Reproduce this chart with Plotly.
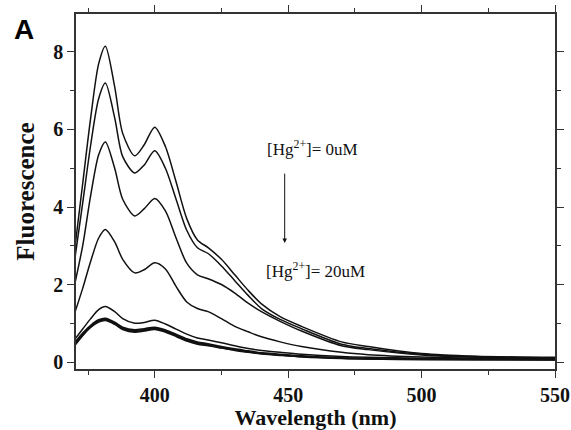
import plotly.graph_objects as go

# Emission wavelengths (nm) at which each spectrum is sampled
wavelength = [370, 373, 376, 379, 381.5, 385, 388, 392.5, 396, 400, 404, 408,
              412, 416, 420, 425, 430, 435, 440, 447, 455, 470, 480, 500, 520, 550]

# Fluorescence spectra for increasing [Hg2+] (0 uM at top -> 20 uM at bottom)
hg_0 = [2.90, 4.60, 6.30, 7.70, 8.15, 7.10, 5.90, 5.32, 5.60, 6.06, 5.56, 4.65,
        3.70, 3.15, 2.95, 2.65, 2.25, 1.85, 1.50, 1.17, 0.92, 0.52, 0.40, 0.22, 0.15, 0.12]
hg_1 = [2.63, 4.10, 5.60, 6.80, 7.20, 6.30, 5.30, 4.88, 5.08, 5.45, 5.00, 4.20,
        3.40, 2.95, 2.80, 2.48, 2.10, 1.72, 1.38, 1.10, 0.86, 0.46, 0.35, 0.20, 0.14, 0.11]
hg_2 = [2.00, 3.00, 4.30, 5.35, 5.68, 5.00, 4.20, 3.77, 3.95, 4.22, 3.90, 3.20,
        2.55, 2.25, 2.15, 2.00, 1.78, 1.52, 1.30, 1.05, 0.80, 0.42, 0.32, 0.18, 0.12, 0.10]
hg_3 = [1.26, 1.90, 2.60, 3.20, 3.42, 3.10, 2.65, 2.30, 2.38, 2.56, 2.40, 1.95,
        1.55, 1.38, 1.30, 1.12, 0.92, 0.78, 0.65, 0.52, 0.40, 0.25, 0.19, 0.13, 0.10, 0.09]
hg_5 = [0.58, 0.85, 1.12, 1.35, 1.43, 1.30, 1.12, 1.00, 1.02, 1.08, 0.98, 0.85,
        0.72, 0.62, 0.57, 0.50, 0.42, 0.35, 0.30, 0.25, 0.20, 0.14, 0.12, 0.10, 0.09, 0.08]
hg_10 = [0.50, 0.75, 0.95, 1.09, 1.13, 1.03, 0.90, 0.83, 0.86, 0.90, 0.83, 0.72,
         0.60, 0.52, 0.47, 0.40, 0.34, 0.29, 0.24, 0.20, 0.16, 0.11, 0.09, 0.08, 0.07, 0.07]
hg_15 = [0.47, 0.72, 0.93, 1.07, 1.11, 1.01, 0.88, 0.81, 0.84, 0.88, 0.81, 0.70,
         0.58, 0.50, 0.45, 0.38, 0.32, 0.27, 0.23, 0.19, 0.15, 0.10, 0.09, 0.07, 0.07, 0.06]
hg_18 = [0.44, 0.70, 0.91, 1.05, 1.09, 0.99, 0.86, 0.79, 0.82, 0.86, 0.79, 0.68,
         0.56, 0.48, 0.44, 0.37, 0.31, 0.26, 0.22, 0.18, 0.14, 0.10, 0.08, 0.07, 0.06, 0.06]
hg_20 = [0.42, 0.68, 0.89, 1.03, 1.07, 0.97, 0.84, 0.77, 0.80, 0.84, 0.77, 0.66,
         0.54, 0.46, 0.42, 0.36, 0.30, 0.25, 0.21, 0.17, 0.13, 0.09, 0.08, 0.06, 0.06, 0.05]

spectra = [hg_0, hg_1, hg_2, hg_3, hg_5, hg_10, hg_15, hg_18, hg_20]

fig = go.Figure()
for ys in spectra:
    fig.add_trace(go.Scatter(
        x=wavelength, y=ys, mode="lines",
        line=dict(color="#111111", width=1.5, shape="spline", smoothing=0.8),
        showlegend=False, hoverinfo="skip",
    ))

serif = "Liberation Serif, Times New Roman, serif"
axis_common = dict(
    showline=True, linecolor="#333333", linewidth=1.5, mirror="allticks",
    ticks="outside", ticklen=7, tickwidth=1.2, tickcolor="#333333",
    showgrid=False, zeroline=False, automargin=False,
    tickfont=dict(family=serif, size=20, color="#111111", weight="bold"),
)

fig.update_xaxes(
    range=[370.5, 550], tickvals=[400, 450, 500, 550],
    minor=dict(tickvals=[375, 425, 475, 525], ticklen=4, ticks="outside",
               tickcolor="#333333", tickwidth=1),
    title=dict(text="Wavelength (nm)", standoff=2,
               font=dict(family=serif, size=22, color="#111111", weight="bold")),
    **axis_common,
)
fig.update_yaxes(
    range=[-0.18, 8.98], tickvals=[0, 2, 4, 6, 8],
    minor=dict(tickvals=[1, 3, 5, 7], ticklen=4, ticks="outside",
               tickcolor="#333333", tickwidth=1),
    title=dict(text="Fluorescence", standoff=12,
               font=dict(family=serif, size=25, color="#111111", weight="bold")),
    **axis_common,
)

label_font = dict(family=serif, size=17, color="#111111")
fig.add_annotation(x=459, y=5.52, xref="x", yref="y",
                   text="[Hg<sup>2+</sup>]= 0uM", showarrow=False, font=label_font)
fig.add_annotation(x=460.3, y=2.37, xref="x", yref="y",
                   text="[Hg<sup>2+</sup>]= 20uM", showarrow=False, font=label_font)
# Downward arrow marking increasing Hg2+ concentration
fig.add_annotation(x=448.7, y=3.07, ax=448.7, ay=4.9,
                   xref="x", yref="y", axref="x", ayref="y",
                   text="", showarrow=True, arrowhead=2, arrowsize=0.9,
                   arrowwidth=1, arrowcolor="#111111")
fig.add_annotation(x=-0.134, y=1.006, xref="paper", yref="paper",
                   xanchor="left", yanchor="top", text="<b>A</b>", showarrow=False,
                   font=dict(family="Liberation Sans, Arial, sans-serif", size=28,
                             color="#000000"))

fig.update_layout(
    width=571, height=430,
    margin=dict(l=76, r=16, t=14, b=61),
    paper_bgcolor="white", plot_bgcolor="white",
)

fig.write_html("out.html")
